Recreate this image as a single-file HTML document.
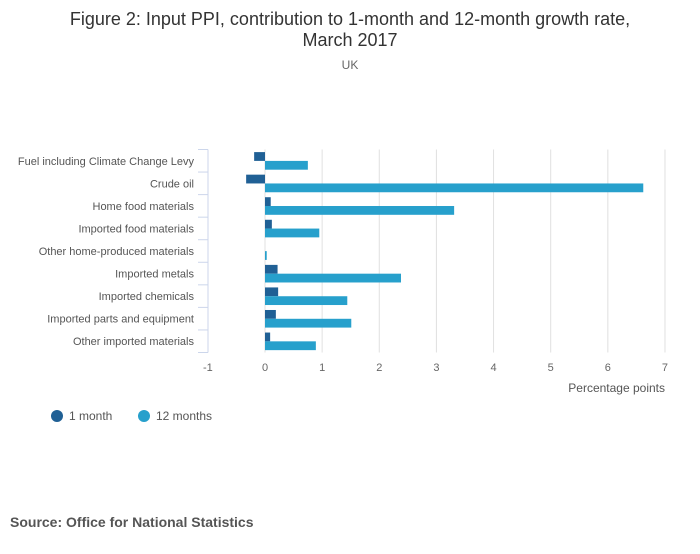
<!DOCTYPE html>
<html><head><meta charset="utf-8"><style>
body{margin:0;background:#fff;width:700px;height:549px;overflow:hidden;font-family:"Liberation Sans",sans-serif}
text{font-family:"Liberation Sans",sans-serif}
</style></head><body>
<svg width="700" height="549">
<text x="350" y="25" text-anchor="middle" font-size="18" fill="#333">Figure 2: Input PPI, contribution to 1-month and 12-month growth rate,</text>
<text x="350" y="46" text-anchor="middle" font-size="18" fill="#333">March 2017</text>
<text x="350" y="69" text-anchor="middle" font-size="12" fill="#666">UK</text>
<g id="grid"></g><g id="bars"></g><g id="labels"></g>
<text x="665" y="392" text-anchor="end" font-size="12" fill="#555">Percentage points</text>
<circle cx="57" cy="416" r="6" fill="#206095"/>
<text x="69" y="420" font-size="12" fill="#555">1 month</text>
<circle cx="144" cy="416" r="6" fill="#27a0cc"/>
<text x="156" y="420" font-size="12" fill="#555">12 months</text>
<text x="10" y="527" font-size="14" font-weight="bold" fill="#555">Source: Office for National Statistics</text>
</svg>
<script>
const categories=["Fuel including Climate Change Levy","Crude oil","Home food materials","Imported food materials","Other home-produced materials","Imported metals","Imported chemicals","Imported parts and equipment","Other imported materials"];
const oneMonth=[-0.19,-0.33,0.1,0.12,0,0.22,0.23,0.19,0.09];
const twelveMonths=[0.75,6.62,3.31,0.95,0.03,2.38,1.44,1.51,0.89];
const xTicks=[-1,0,1,2,3,4,5,6,7];
const NS="http://www.w3.org/2000/svg";
const plotTop=149.5,plotBottom=352.5,rowH=(plotBottom-plotTop)/categories.length;
const xs=v=>265+(v)*57.14;
const ys=i=>plotTop+i*rowH;
function mk(p,tag,a){const e=document.createElementNS(NS,tag);for(const k in a)e.setAttribute(k,a[k]);document.getElementById(p).appendChild(e);return e;}
xTicks.forEach(t=>{
 if(t>-1){const l=mk('grid','line',{x1:xs(t),x2:xs(t),y1:plotTop,y2:plotBottom,stroke:'#e0e0e0'});
 
 }
 const tx=mk('labels','text',{x:xs(t),y:371,'text-anchor':'middle','font-size':11,fill:'#666'});tx.textContent=t;
 
 
});
const ax=mk('grid','line',{x1:208,x2:208,y1:plotTop,y2:plotBottom,stroke:'#ccd6eb'});


categories.forEach((c,i)=>{
 const tk=mk('grid','line',{x1:198,x2:208,y1:ys(i),y2:ys(i),stroke:'#ccd6eb'});
 
 
 const tl=mk('labels','text',{x:194,y:ys(i)+rowH/2+4,'text-anchor':'end','font-size':11,fill:'#555'});tl.textContent=c;
 
 
 const v1=oneMonth[i],v2=twelveMonths[i];
 const b1=mk('bars','rect',{x:Math.min(xs(0),xs(v1)),y:ys(i)+2.6,width:Math.abs(xs(v1)-xs(0)),height:8.8,fill:'#206095'});
 
 
 const b2=mk('bars','rect',{x:Math.min(xs(0),xs(v2)),y:ys(i)+11.4,width:Math.abs(xs(v2)-xs(0)),height:8.8,fill:'#27a0cc'});
 
 
});
const lt=mk('grid','line',{x1:198,x2:208,y1:plotBottom,y2:plotBottom,stroke:'#ccd6eb'});


</script>
</body></html>
